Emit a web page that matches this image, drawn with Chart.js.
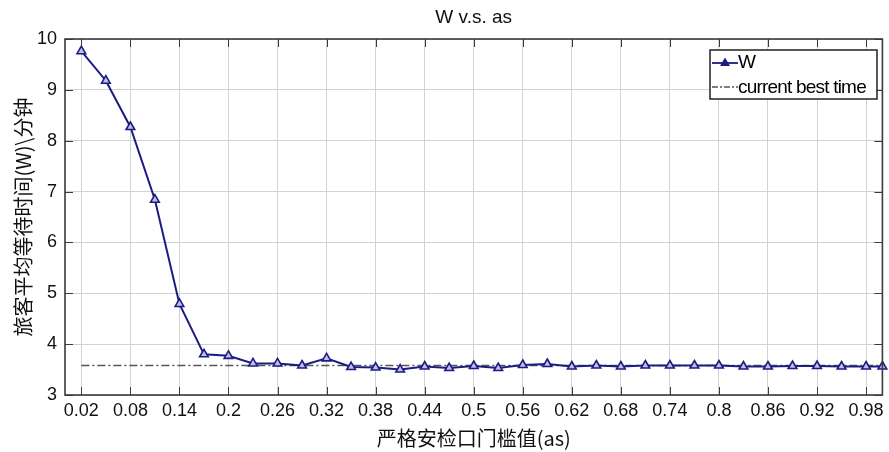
<!DOCTYPE html>
<html>
<head>
<meta charset="utf-8">
<script src="https://cdn.jsdelivr.net/npm/chart.js@4"></script>
<style>
  html, body { margin: 0; padding: 0; background: #fff; }
  #wrap { width: 889px; height: 452px; }
</style>
</head>
<body>
<div id="wrap"><canvas id="chart" width="889" height="452"></canvas></div>
<script>
// threshold values (as)
var asValues = [0.02, 0.05, 0.08, 0.11, 0.14, 0.17, 0.20, 0.23, 0.26, 0.29,
                0.32, 0.35, 0.38, 0.41, 0.44, 0.47, 0.50, 0.53, 0.56, 0.59,
                0.62, 0.65, 0.68, 0.71, 0.74, 0.77, 0.80, 0.83, 0.86, 0.89,
                0.92, 0.95, 0.98, 1.00];
// average waiting time W (minutes)
var wValues = [9.76, 9.18, 8.27, 6.84, 4.79, 3.80, 3.77, 3.62, 3.62, 3.58,
               3.72, 3.55, 3.54, 3.50, 3.56, 3.53, 3.57, 3.53, 3.59, 3.61,
               3.56, 3.58, 3.56, 3.58, 3.58, 3.58, 3.58, 3.56, 3.56, 3.57,
               3.57, 3.56, 3.56, 3.56];
var bestTime = 3.58;
var bestRange = [0.02, 1.00];
var xTicks = [0.02, 0.08, 0.14, 0.2, 0.26, 0.32, 0.38, 0.44, 0.5, 0.56,
              0.62, 0.68, 0.74, 0.8, 0.86, 0.92, 0.98];
var yTicks = [3, 4, 5, 6, 7, 8, 9, 10];

var navy = '#1c1c82';
var font = "'Liberation Sans', Arial, sans-serif";
var cjk = "'Noto Sans CJK SC', 'Liberation Sans', sans-serif";

// box, inward ticks and legend, matlab style
var boxPlugin = {
    id: 'box',
    afterDraw: function (chart) {
        var c = chart.ctx, a = chart.chartArea;
        var xs = chart.scales.x, ys = chart.scales.y;
        c.save();
        c.strokeStyle = '#3a3a3a';
        c.lineWidth = 1;
        xTicks.forEach(function (t) {
            var px = Math.round(xs.getPixelForValue(t)) + 0.5;
            c.beginPath();
            c.moveTo(px, a.bottom); c.lineTo(px, a.bottom - 8);
            c.moveTo(px, a.top); c.lineTo(px, a.top + 8);
            c.stroke();
        });
        yTicks.forEach(function (t) {
            var py = Math.round(ys.getPixelForValue(t)) + 0.5;
            c.beginPath();
            c.moveTo(a.left, py); c.lineTo(a.left + 8, py);
            c.moveTo(a.right, py); c.lineTo(a.right - 8, py);
            c.stroke();
        });
        c.lineWidth = 1.6;
        c.strokeRect(a.left, a.top, a.right - a.left, a.bottom - a.top);

        // legend
        var lx = 710, ly = 50, lw = 167, lh = 49;
        c.fillStyle = '#fff';
        c.fillRect(lx, ly, lw, lh);
        c.lineWidth = 1.5;
        c.strokeStyle = '#222';
        c.strokeRect(lx, ly, lw, lh);
        c.strokeStyle = navy;
        c.lineWidth = 1.8;
        c.beginPath(); c.moveTo(lx + 2, ly + 13); c.lineTo(lx + 28, ly + 13); c.stroke();
        c.fillStyle = navy;
        c.beginPath();
        c.moveTo(lx + 15, ly + 7.5); c.lineTo(lx + 20, ly + 16); c.lineTo(lx + 10, ly + 16);
        c.closePath(); c.fill();
        c.strokeStyle = '#555';
        c.lineWidth = 1.5;
        c.setLineDash([6, 2, 2, 2]);
        c.beginPath(); c.moveTo(lx + 2, ly + 37); c.lineTo(lx + 28, ly + 37); c.stroke();
        c.setLineDash([]);
        c.fillStyle = '#000';
        c.font = '19px ' + font;
        c.textBaseline = 'middle';
        c.textAlign = 'left';
        c.fillText('W', lx + 28, ly + 13);
        c.letterSpacing = '-0.8px';
        c.fillText('current best time', lx + 28, ly + 38);
        c.restore();
    }
};

var ctx = document.getElementById('chart').getContext('2d');
var chart = new Chart(ctx, {
    type: 'line',
    data: {
        datasets: [{
            label: 'W',
            data: asValues.map(function (x, i) { return { x: x, y: wValues[i] }; }),
            borderColor: navy,
            borderWidth: 2,
            pointStyle: 'triangle',
            pointRadius: 5,
            pointBorderWidth: 1.6,
            pointBorderColor: navy,
            pointBackgroundColor: '#c0c0ea',
            tension: 0
        }, {
            label: 'current best time',
            data: bestRange.map(function (x) { return { x: x, y: bestTime }; }),
            borderColor: '#555',
            borderWidth: 1.5,
            borderDash: [8, 3, 2, 3],
            pointRadius: 0
        }]
    },
    options: {
        responsive: false,
        animation: false,
        clip: false,
        layout: { padding: { left: 0, right: 2, top: 0, bottom: 0 } },
        plugins: {
            legend: { display: false },
            tooltip: { enabled: false },
            title: {
                display: true,
                fullSize: false,
                text: 'W v.s. as',
                color: '#111',
                font: { family: font, size: 19, weight: 'normal', lineHeight: 1 },
                padding: { top: 8, bottom: 12 }
            }
        },
        scales: {
            x: {
                type: 'linear',
                min: 0,
                max: 1.0,
                afterBuildTicks: function (s) {
                    s.ticks = xTicks.map(function (v) { return { value: v }; });
                },
                afterFit: function (s) { s.height = 57; },
                ticks: {
                    color: '#111',
                    font: { family: font, size: 18 },
                    padding: 5,
                    maxRotation: 0,
                    autoSkip: false,
                    callback: function (v) { return String(+v.toFixed(2)); }
                },
                grid: { color: '#d2d2d2', lineWidth: 1, drawTicks: false },
                border: { display: false },
                title: {
                    display: true,
                    text: '严格安检口门槛值(as)',
                    color: '#111',
                    font: { family: cjk, size: 20 },
                    padding: { top: 0, bottom: 2 }
                }
            },
            y: {
                min: 3,
                max: 10,
                afterFit: function (s) { s.width = 65; },
                ticks: {
                    stepSize: 1,
                    color: '#111',
                    font: { family: font, size: 18 },
                    padding: 8
                },
                grid: { color: '#d2d2d2', lineWidth: 1, drawTicks: false },
                border: { display: false },
                title: {
                    display: true,
                    text: '旅客平均等待时间(W)\\分钟',
                    color: '#111',
                    font: { family: cjk, size: 20 },
                    padding: { top: 11, bottom: 0 }
                }
            }
        }
    },
    plugins: [boxPlugin]
});
</script>
</body>
</html>
